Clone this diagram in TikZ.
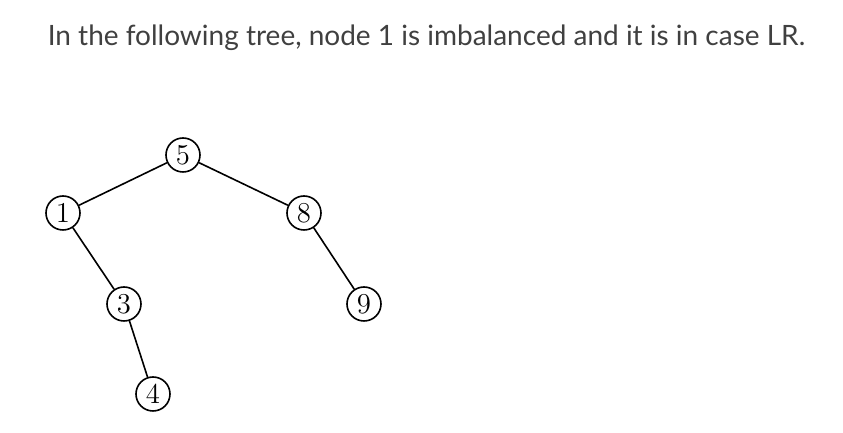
\documentclass[tikz,border=0pt]{standalone}
\usepackage{fontspec}
\setsansfont{Lato}
\usetikzlibrary{positioning}
\definecolor{captiongray}{HTML}{404040}
\def\dx{60pt}
\def\dy{29pt}
\tikzstyle{key}=[draw,circle,inner sep=0pt,minimum size=17pt,font=\Large]
\newcommand{\newKey}[4]{\node[key,#3](#1)[#4]{#2};}
\newcommand{\newBranch}[3]{\path (#1) edge [#3] (#2);}

\begin{document}
\begin{tikzpicture}[node distance=\dy and \dx,on grid,
  thick  %semithick, thick
  ]
  \useasboundingbox (-91.5pt,77.5pt) rectangle (330pt,-139pt);
  \node[anchor=base west,inner sep=0pt,text=captiongray,
    font=\sffamily\fontsize{14}{17}\selectfont] (caption) at (-68pt,54.5pt)
    {In the following tree, node 1 is imbalanced and it is in case LR.};
  \newKey{k5}{$5$}{}{}
  \newKey{k1}{$1$}{}{below left=of k5}
  \newKey{k8}{$8$}{}{below right=29pt and 60.5pt of k5}
  \newKey{k3}{$3$}{}{below right=45.5pt and 30.5pt of k1}
  \newKey{k9}{$9$}{}{below right=45.5pt and 30pt of k8}
  \newKey{k4}{$4$}{}{below right=45pt and 14.5pt of k3}
  \newBranch{k5}{k1}{}
  \newBranch{k5}{k8}{}
  \newBranch{k1}{k3}{}
  \newBranch{k8}{k9}{}
  \newBranch{k3}{k4}{}
\end{tikzpicture}
\end{document}
